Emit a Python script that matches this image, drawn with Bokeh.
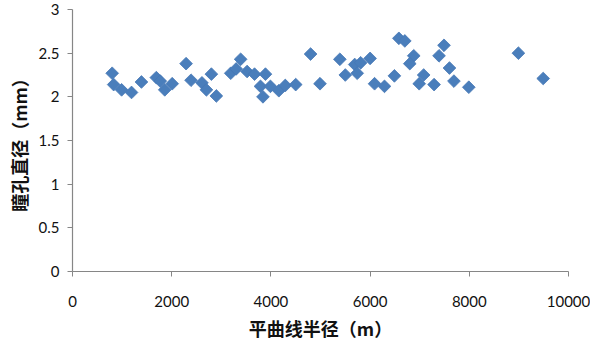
import numpy as np
from bokeh.plotting import figure
from bokeh.models import FixedTicker, Range1d
from bokeh.embed import file_html
from bokeh.resources import INLINE

# 平曲线半径 (m)
radius = [800, 830, 990, 1190, 1390, 1690, 1770, 1860, 2010, 2290,
          2390, 2610, 2700, 2800, 2900, 3190, 3300, 3390, 3520, 3670,
          3790, 3890, 3990, 3840, 4160, 4290, 4500, 4800, 4990, 5390,
          5500, 5690, 5740, 5810, 6000, 6090, 6290, 6490, 6580, 6700,
          6880, 6800, 7080, 6990, 7290, 7390, 7490, 7600, 7690, 7990,
          8990, 9490]
# 瞳孔直径 (mm)
pupil = [2.27, 2.14, 2.08, 2.05, 2.17, 2.22, 2.18, 2.08, 2.15, 2.38,
         2.19, 2.16, 2.08, 2.26, 2.01, 2.27, 2.32, 2.43, 2.29, 2.26,
         2.12, 2.26, 2.12, 2.00, 2.07, 2.13, 2.14, 2.49, 2.15, 2.43,
         2.25, 2.37, 2.27, 2.39, 2.44, 2.15, 2.12, 2.24, 2.67, 2.64,
         2.47, 2.38, 2.25, 2.15, 2.14, 2.47, 2.59, 2.33, 2.18, 2.11,
         2.50, 2.21]

x_ticks = [0, 2000, 4000, 6000, 8000, 10000]
y_ticks = [0, 0.5, 1, 1.5, 2, 2.5, 3]
x_title = "平曲线半径（m）"
y_title = "瞳孔直径（mm）"

p = figure(width=590, height=343, output_backend="svg", toolbar_location=None,
           x_range=Range1d(0, 10000), y_range=Range1d(0, 3),
           min_border_left=72, min_border_right=22, min_border_top=9,
           min_border_bottom=72)
p.outline_line_color = None
p.grid.visible = False
p.background_fill_color = "white"
p.border_fill_color = "white"

p.scatter(radius, pupil, marker="square", angle=np.pi / 4, size=9,
          fill_color="#4a7ebb", line_color="#4677b5", line_width=0.8)

axis_col = "#868686"
for ax in (p.xaxis[0], p.yaxis[0]):
    ax.axis_line_color = axis_col
    ax.axis_line_width = 1.2
    ax.major_tick_line_color = axis_col
    ax.major_tick_out = 5
    ax.major_tick_in = 0
    ax.minor_tick_line_color = None
    ax.major_label_text_font = "Lato"
    ax.major_label_text_font_size = "15px"
    ax.major_label_text_color = "#111111"
    ax.axis_label_text_font = "Noto Sans CJK SC"
    ax.axis_label_text_font_style = "bold"
    ax.axis_label_text_font_size = "18px"
    ax.axis_label_text_color = "#111111"

p.xaxis.ticker = FixedTicker(ticks=x_ticks)
p.yaxis.ticker = FixedTicker(ticks=y_ticks)
p.xaxis.major_label_overrides = {t: str(t) for t in x_ticks}
p.yaxis.major_label_overrides = {0: "0", 0.5: "0.5", 1: "1", 1.5: "1.5", 2: "2", 2.5: "2.5", 3: "3"}
p.xaxis.axis_label = x_title
p.yaxis.axis_label = y_title
p.xaxis.major_label_standoff = 19
p.yaxis.major_label_standoff = 8
p.xaxis.axis_label_standoff = 5
p.yaxis.axis_label_standoff = 4

open("out.html", "w").write(file_html(p, INLINE))
